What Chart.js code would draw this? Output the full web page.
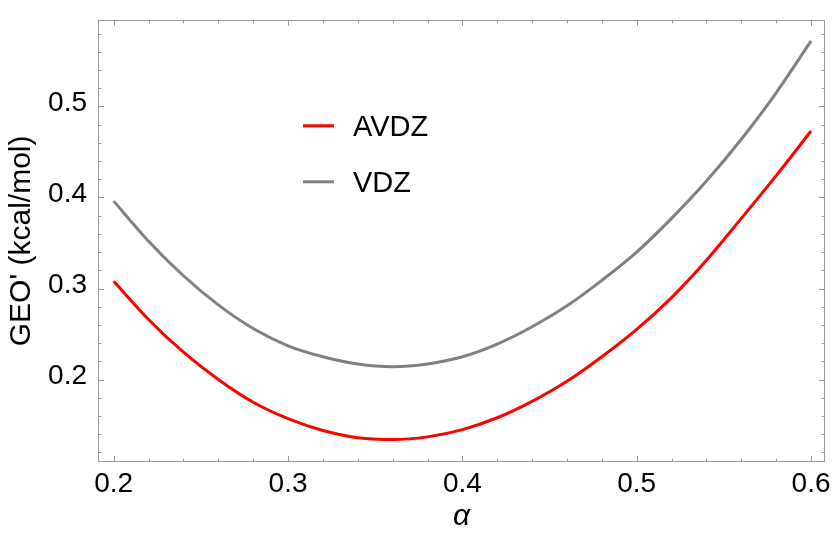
<!DOCTYPE html>
<html>
<head>
<meta charset="utf-8">
<script src="https://cdn.jsdelivr.net/npm/chart.js@4/dist/chart.umd.min.js"></script>
<style>
  html, body { margin: 0; padding: 0; background: #fff; }
  #wrap { width: 835px; height: 533px; }
</style>
</head>
<body>
<div id="wrap"><canvas id="geo-chart" width="835" height="533"></canvas></div>
<script>
// GEO' vs alpha, two basis sets

const alphaValues = [0.20, 0.22, 0.24, 0.26, 0.28, 0.30, 0.32, 0.34, 0.36, 0.38, 0.40,
                     0.42, 0.44, 0.46, 0.48, 0.50, 0.52, 0.54, 0.56, 0.58, 0.60];
const avdzValues = [0.308, 0.266, 0.230, 0.200, 0.175, 0.157, 0.144, 0.136, 0.134, 0.137, 0.145,
                    0.158, 0.176, 0.198, 0.225, 0.255, 0.290, 0.331, 0.377, 0.424, 0.473];
const vdzValues = [0.396, 0.352, 0.314, 0.282, 0.256, 0.237, 0.225, 0.217, 0.214, 0.217, 0.225,
                   0.239, 0.258, 0.281, 0.309, 0.340, 0.377, 0.418, 0.464, 0.515, 0.572];

const seriesNames = ["AVDZ", "VDZ"];
const seriesColors = ["#ff0000", "#808080"];

const xTicks = [0.2, 0.3, 0.4, 0.5, 0.6];
const xMinorTicks = [0.22, 0.24, 0.26, 0.28, 0.32, 0.34, 0.36, 0.38, 0.42, 0.44, 0.46, 0.48,
                     0.52, 0.54, 0.56, 0.58];
const yTicks = [0.2, 0.3, 0.4, 0.5];
const yMinorTicks = [0.12, 0.14, 0.16, 0.18, 0.22, 0.24, 0.26, 0.28, 0.32, 0.34, 0.36, 0.38,
                     0.42, 0.44, 0.46, 0.48, 0.52, 0.54, 0.56, 0.58];

const FONT = "'Liberation Sans', Arial, Helvetica, sans-serif";
const FRAME_COLOR = "#9a9a9a";

function toPoints(ys) {
  return alphaValues.map((a, i) => ({ x: a, y: ys[i] }));
}

// frame + inward ticks on all four sides, like a Mathematica frame
const framePlugin = {
  id: "frame",
  afterDatasetsDraw(chart) {
    const { ctx, chartArea: area, scales } = chart;
    const xs = scales.x, ys = scales.y;
    ctx.save();
    ctx.strokeStyle = FRAME_COLOR;
    ctx.lineWidth = 1;
    ctx.strokeRect(Math.round(area.left) + 0.5, Math.round(area.top) + 0.5,
                   Math.round(area.right - area.left) - 1, Math.round(area.bottom - area.top) - 1);

    const tick = (vals, len, horiz) => {
      vals.forEach(v => {
        if (horiz) {
          const px = Math.round(xs.getPixelForValue(v)) + 0.5;
          ctx.beginPath();
          ctx.moveTo(px, area.bottom); ctx.lineTo(px, area.bottom - len);
          ctx.moveTo(px, area.top); ctx.lineTo(px, area.top + len);
          ctx.stroke();
        } else {
          const py = Math.round(ys.getPixelForValue(v)) + 0.5;
          ctx.beginPath();
          ctx.moveTo(area.left, py); ctx.lineTo(area.left + len, py);
          ctx.moveTo(area.right, py); ctx.lineTo(area.right - len, py);
          ctx.stroke();
        }
      });
    };
    tick(xTicks, 6, true);
    tick(xMinorTicks, 3.5, true);
    tick(yTicks, 6, false);
    tick(yMinorTicks, 3.5, false);
    ctx.restore();
  }
};

// legend sitting inside the plot
const innerLegend = {
  id: "innerLegend",
  afterDraw(chart) {
    const { ctx, chartArea: area } = chart;
    ctx.save();
    chart.data.datasets.forEach((ds, i) => {
      const y = area.top + 106 + i * 56;
      ctx.strokeStyle = ds.borderColor;
      ctx.lineWidth = 3;
      ctx.beginPath();
      ctx.moveTo(area.left + 205, y);
      ctx.lineTo(area.left + 236, y);
      ctx.stroke();
      ctx.fillStyle = "#000";
      ctx.font = "29px " + FONT;
      ctx.textBaseline = "alphabetic";
      ctx.fillText(ds.label, area.left + 255, y + 10);
    });
    ctx.restore();
  }
};

const ctx = document.getElementById("geo-chart").getContext("2d");
new Chart(ctx, {
  type: "scatter",
  data: {
    datasets: [
      { label: seriesNames[0], data: toPoints(avdzValues), borderColor: seriesColors[0] },
      { label: seriesNames[1], data: toPoints(vdzValues), borderColor: seriesColors[1] }
    ].map(d => Object.assign(d, {
      showLine: true,
      borderWidth: 3,
      pointRadius: 0,
      fill: false,
      cubicInterpolationMode: "monotone"
    }))
  },
  options: {
    responsive: false,
    animation: false,
    devicePixelRatio: 1,
    layout: { padding: { top: 13, right: 10, left: 0, bottom: 0 } },
    plugins: { legend: { display: false }, tooltip: { enabled: false } },
    scales: {
      x: {
        type: "linear",
        min: 0.191,
        max: 0.608,
        grid: { display: false },
        border: { display: false },
        afterBuildTicks: s => { s.ticks = xTicks.map(v => ({ value: v })); },
        afterFit: s => { s.height = 71; },
        ticks: {
          color: "#000",
          padding: -3,
          font: { family: FONT, size: 28 },
          callback: v => v.toFixed(1)
        },
        title: {
          display: true,
          text: "α",
          color: "#000",
          font: { family: FONT, size: 30, style: "italic", lineHeight: 1 },
          padding: { top: 0, bottom: 1 }
        }
      },
      y: {
        type: "linear",
        min: 0.1094,
        max: 0.5952,
        grid: { display: false },
        border: { display: false },
        afterBuildTicks: s => { s.ticks = yTicks.map(v => ({ value: v })); },
        afterFit: s => { s.width = 98; },
        ticks: {
          color: "#000",
          padding: 3,
          labelOffset: -3,
          font: { family: FONT, size: 28 },
          callback: v => v.toFixed(1)
        },
        title: {
          display: true,
          text: "GEO' (kcal/mol)",
          color: "#000",
          font: { family: FONT, size: 30, lineHeight: 1 },
          padding: { top: 7, bottom: 0 }
        }
      }
    }
  },
  plugins: [framePlugin, innerLegend]
});
</script>
</body>
</html>
